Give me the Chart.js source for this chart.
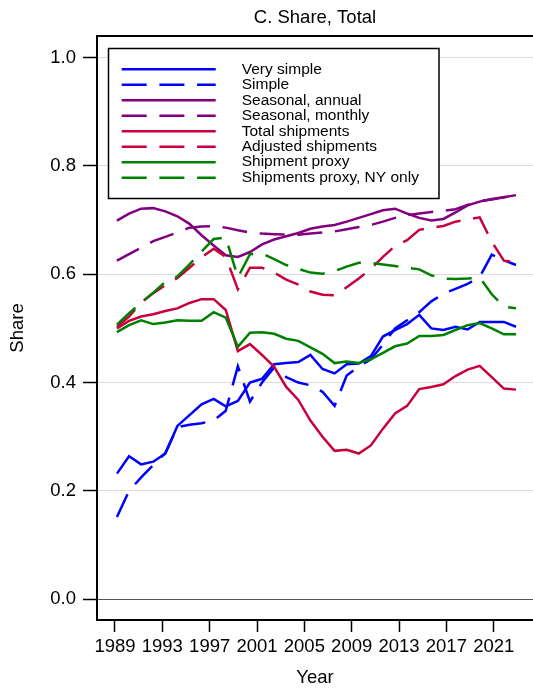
<!DOCTYPE html>
<html>
<head>
<meta charset="utf-8">
<script src="https://cdn.jsdelivr.net/npm/chart.js@4.4.1/dist/chart.umd.min.js"></script>
<style>
  html, body { margin: 0; padding: 0; background: #fff; }
  canvas { display: block; }
</style>
</head>
<body>
<canvas id="shareChart" width="533" height="689"></canvas>
<script>
// Years on the data axis
const years = [1989, 1990, 1991, 1992, 1993, 1994, 1995, 1996, 1997, 1998, 1999, 2000,
               2001, 2002, 2003, 2004, 2005, 2006, 2007, 2008, 2009, 2010, 2011, 2012,
               2013, 2014, 2015, 2016, 2017, 2018, 2019, 2020, 2021, 2022];

// Tick labels
const xTickYears = [1989, 1993, 1997, 2001, 2005, 2009, 2013, 2017, 2021];
const yTicks = [0, 0.2, 0.4, 0.6, 0.8, 1.0];

// Series
const verySimple = [0.232, 0.264, 0.249, 0.254, 0.269, 0.320, 0.340, 0.360, 0.370, 0.356, 0.366, 0.400,
                    0.407, 0.434, 0.436, 0.438, 0.451, 0.425, 0.417, 0.434, 0.435, 0.449, 0.485, 0.497,
                    0.508, 0.525, 0.500, 0.497, 0.503, 0.498, 0.512, 0.512, 0.512, 0.503];
const simple = [0.152, 0.200, 0.225, 0.248, 0.270, 0.318, 0.322, 0.325, 0.330, 0.348, 0.430, 0.365,
                0.400, 0.428, 0.410, 0.400, 0.395, 0.383, 0.357, 0.413, 0.430, 0.443, 0.470, 0.500,
                0.515, 0.530, 0.550, 0.564, 0.573, 0.582, 0.595, 0.636, 0.626, 0.617];
const seasonalAnnual = [0.699, 0.712, 0.721, 0.722, 0.716, 0.707, 0.693, 0.672, 0.653, 0.635, 0.632, 0.641,
                        0.655, 0.664, 0.670, 0.676, 0.684, 0.688, 0.691, 0.697, 0.704, 0.711, 0.718, 0.721,
                        0.712, 0.704, 0.699, 0.702, 0.714, 0.727, 0.734, 0.739, 0.742, 0.746];
const seasonalMonthly = [0.625, 0.637, 0.649, 0.661, 0.669, 0.677, 0.686, 0.688, 0.689, 0.686, 0.681, 0.677,
                         0.675, 0.674, 0.673, 0.673, 0.675, 0.677, 0.679, 0.683, 0.687, 0.691, 0.697, 0.704,
                         0.709, 0.712, 0.715, 0.717, 0.720, 0.728, 0.735, 0.738, 0.742, 0.746];
const totalShipments = [0.500, 0.514, 0.522, 0.526, 0.532, 0.537, 0.547, 0.554, 0.554, 0.534, 0.458, 0.471,
                        0.451, 0.429, 0.392, 0.368, 0.330, 0.300, 0.274, 0.276, 0.269, 0.284, 0.315, 0.343,
                        0.357, 0.388, 0.392, 0.397, 0.412, 0.424, 0.431, 0.410, 0.389, 0.387];
const adjustedShipments = [0.503, 0.522, 0.548, 0.565, 0.580, 0.593, 0.612, 0.631, 0.647, 0.632, 0.572, 0.612,
                           0.612, 0.603, 0.590, 0.581, 0.568, 0.562, 0.561, 0.576, 0.592, 0.610, 0.632, 0.652,
                           0.663, 0.682, 0.686, 0.689, 0.697, 0.701, 0.705, 0.660, 0.625, 0.622];
const shipmentProxy = [0.493, 0.506, 0.515, 0.508, 0.511, 0.515, 0.514, 0.514, 0.530, 0.520, 0.466, 0.492,
                       0.493, 0.490, 0.481, 0.477, 0.465, 0.453, 0.436, 0.439, 0.436, 0.443, 0.455, 0.467,
                       0.472, 0.486, 0.486, 0.488, 0.497, 0.506, 0.510, 0.500, 0.489, 0.489];
const proxyNY = [0.507, 0.528, 0.547, 0.566, 0.586, 0.596, 0.618, 0.642, 0.665, 0.668, 0.594, 0.637,
                 0.638, 0.628, 0.617, 0.610, 0.603, 0.601, 0.606, 0.614, 0.621, 0.621, 0.618, 0.615,
                 0.612, 0.609, 0.598, 0.592, 0.591, 0.592, 0.594, 0.563, 0.540, 0.537];

const seriesNames = ['Very simple', 'Simple', 'Seasonal, annual', 'Seasonal, monthly',
                     'Total shipments', 'Adjusted shipments', 'Shipment proxy', 'Shipments proxy, NY only'];
const seriesValues = [verySimple, simple, seasonalAnnual, seasonalMonthly,
                      totalShipments, adjustedShipments, shipmentProxy, proxyNY];
const seriesColors = ['#0000ff', '#0000ff', '#800080', '#800080', '#c8003c', '#c8003c', '#008000', '#008000'];
const seriesDashed = [false, true, false, true, false, true, false, true];

const FONT = '"Liberation Sans", Arial, Helvetica, sans-serif';
const DASH = [25, 12.7];

// Legend drawn as a framed box inside the plot
const legendBox = {
    id: 'legendBox',
    afterDatasetsDraw(chart) {
        const ctx = chart.ctx;
        ctx.save();
        ctx.fillStyle = '#fff';
        ctx.strokeStyle = '#000';
        ctx.lineWidth = 1.5;
        ctx.fillRect(108.5, 48.5, 330.5, 150);
        ctx.strokeRect(108.5, 48.5, 330.5, 150);
        ctx.font = '15.5px ' + FONT;
        ctx.textBaseline = 'middle';
        chart.data.datasets.forEach((ds, i) => {
            const y = 69.3 + i * 15.48;
            ctx.strokeStyle = ds.borderColor;
            ctx.lineWidth = ds.borderWidth;
            ctx.setLineDash(ds.borderDash || []);
            ctx.beginPath();
            ctx.moveTo(121.7, y);
            ctx.lineTo(215.7, y);
            ctx.stroke();
            ctx.setLineDash([]);
            ctx.fillStyle = '#000';
            ctx.fillText(ds.label, 241.7, y);
        });
        ctx.restore();
    }
};

// Build datasets
const datasets = seriesNames.map((name, i) => ({
    label: name,
    data: years.map((yr, k) => ({ x: yr, y: seriesValues[i][k] })),
    borderColor: seriesColors[i],
    backgroundColor: seriesColors[i],
    borderWidth: 2.5,
    borderDash: seriesDashed[i] ? DASH : [],
    pointRadius: 0,
    tension: 0,
    fill: false,
    order: seriesNames.length - i
}));

new Chart(document.getElementById('shareChart'), {
    type: 'line',
    data: { datasets: datasets },
    options: {
        responsive: false,
        animation: false,
        layout: { padding: 0 },
        plugins: {
            legend: { display: false },
            tooltip: { enabled: false },
            title: {
                display: true,
                text: 'C. Share, Total',
                fullSize: false,
                color: '#000',
                font: { family: FONT, size: 18.5, weight: 'normal' },
                padding: { top: 7, bottom: 0 }
            }
        },
        scales: {
            // data axis (top frame line)
            x: {
                type: 'linear',
                position: 'top',
                min: 1987.35,
                max: 2023.41,
                ticks: { display: false },
                grid: { display: true, drawOnChartArea: false, drawTicks: false },
                border: { display: true, color: '#000', width: 2 },
                afterFit: (scale) => { scale.height = 6.8; }
            },
            // tick axis at the bottom
            x2: {
                type: 'linear',
                position: 'bottom',
                min: 1987.48,
                max: 2024.32,
                afterBuildTicks: (scale) => { scale.ticks = xTickYears.map(v => ({ value: v })); },
                afterFit: (scale) => { scale.height = 69; },
                ticks: {
                    autoSkip: false,
                    maxRotation: 0,
                    padding: 4,
                    color: '#000',
                    font: { family: FONT, size: 18.5 },
                    callback: (v) => String(v)
                },
                grid: { drawOnChartArea: false, drawTicks: true, tickLength: 12, color: '#000', tickWidth: 1.5 },
                border: { display: true, color: '#000', width: 2 },
                title: {
                    display: true,
                    text: 'Year',
                    color: '#000',
                    font: { family: FONT, size: 18.5 },
                    padding: { top: 0, bottom: 0 }
                }
            },
            y: {
                type: 'linear',
                position: 'left',
                min: -0.0382,
                max: 1.0397,
                afterBuildTicks: (scale) => { scale.ticks = yTicks.map(v => ({ value: v })); },
                afterFit: (scale) => { scale.width = 97; },
                ticks: {
                    padding: 7,
                    color: '#000',
                    font: { family: FONT, size: 18.5 },
                    callback: (v) => Number(v).toFixed(1)
                },
                grid: {
                    color: (c) => (c.tick && c.tick.value === 0 ? '#555' : '#dcdcdc'),
                    lineWidth: 1,
                    drawTicks: true,
                    tickLength: 14,
                    tickColor: '#000',
                    tickWidth: 1.5
                },
                border: { display: true, color: '#000', width: 2 },
                title: {
                    display: true,
                    text: 'Share',
                    color: '#000',
                    font: { family: FONT, size: 18.5 },
                    padding: { top: 7, bottom: 0 }
                }
            }
        }
    },
    plugins: [legendBox]
});
</script>
</body>
</html>
